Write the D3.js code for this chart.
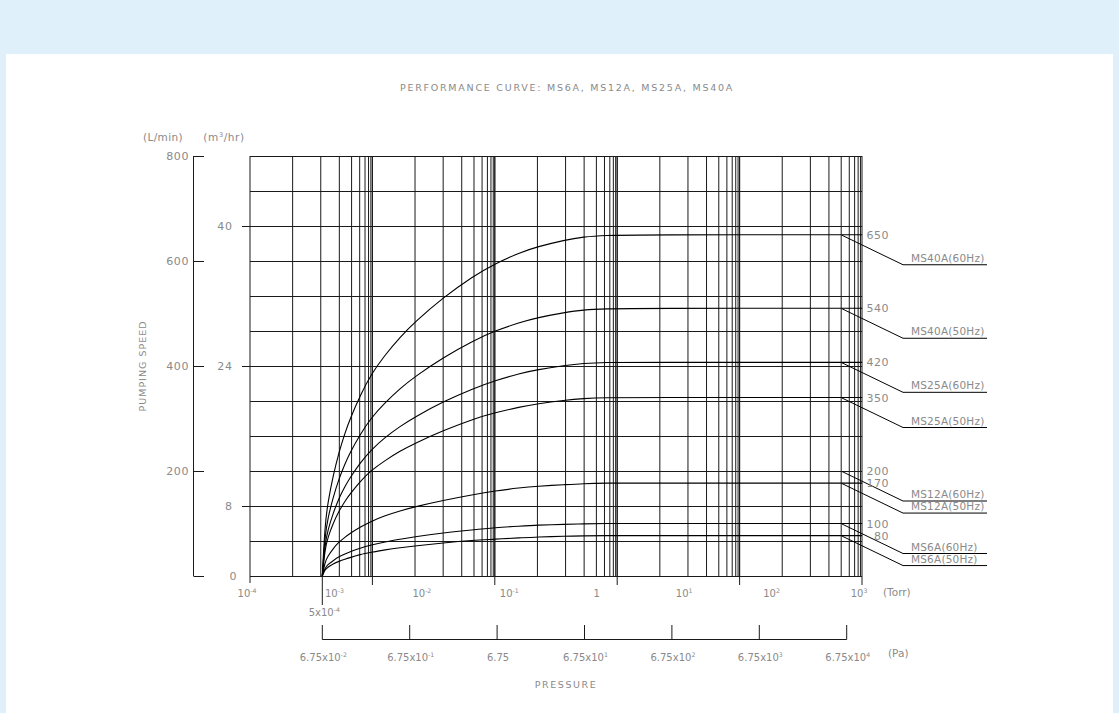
<!DOCTYPE html>
<html>
<head>
<meta charset="utf-8">
<script src="https://cdn.jsdelivr.net/npm/d3@7"></script>
<style>
  html, body { margin: 0; padding: 0; background: #dff0fb; }
  svg { display: block; }
  text { font-family: "DejaVu Sans", sans-serif; font-weight: normal; fill: #8a8a8a; }
</style>
</head>
<body>
<svg id="chart" width="1119" height="713"></svg>
<script>
// ---------------- data ----------------
const title = "PERFORMANCE CURVE: MS6A, MS12A, MS25A, MS40A";
const seriesNames = ["MS40A(60Hz)", "MS40A(50Hz)", "MS25A(60Hz)", "MS25A(50Hz)",
                     "MS12A(60Hz)", "MS12A(50Hz)", "MS6A(60Hz)", "MS6A(50Hz)"];
const ratedLabels = [650, 540, 420, 350, 200, 170, 100, 80];          // printed values
const plateauLevels = [650, 510, 407, 340, 200, 177, 100, 77];        // level where each curve / leader sits (L/min)
// pressure samples (Pa) shared by all curves
const pressuresPa = [0.0675, 0.0725, 0.0784, 0.0895, 0.105, 0.123, 0.14, 0.182, 0.2435, 0.352, 0.523,
                     0.776, 1.62, 3.58, 6.38, 12.3, 19.3, 40.4, 64.9, 116, 291, 101325];
// pumping speed (L/min) per series; MS12A(60Hz) has no drawn curve in the chart
const speedMS40A60 = [0, 99, 141, 190, 237, 273, 299, 343, 384, 421, 455, 484, 530, 571, 595, 616, 627, 640, 646, 649, 650, 650];
const speedMS40A50 = [0, 78, 111, 149, 186, 214, 235, 269, 301, 330, 357, 380, 416, 448, 467, 483, 492, 502, 507, 509, 510, 510];
const speedMS25A60 = [0, 62, 88, 119, 149, 171, 187, 215, 240, 264, 285, 303, 332, 357, 372, 386, 393, 401, 405, 407, 407, 407];
const speedMS25A50 = [0, 52, 74, 100, 124, 143, 156, 180, 201, 220, 238, 253, 277, 299, 311, 322, 328, 335, 338, 340, 340, 340];
const speedMS12A60 = null;
const speedMS12A50 = [0, 27, 38, 52, 65, 74, 81, 93, 104, 115, 124, 132, 144, 155, 162, 168, 171, 174, 176, 177, 177, 177];
const speedMS6A60  = [0, 15, 22, 29, 37, 42, 46, 53, 59, 65, 70, 75, 82, 88, 92, 95, 97, 98.5, 99.4, 100, 100, 100];
const speedMS6A50  = [0, 12, 17, 23, 28, 32, 35, 41, 45, 50, 54, 57, 63, 68, 70, 73, 74, 76, 76.5, 77, 77, 77];
const speeds = [speedMS40A60, speedMS40A50, speedMS25A60, speedMS25A50,
                speedMS12A60, speedMS12A50, speedMS6A60, speedMS6A50];

const lminTicks = [0, 200, 400, 600, 800];
const m3Ticks = [0, 8, 24, 40];
const m3GridStep = 4;
const torrExps = [-4, -3, -2, -1, 0, 1, 2, 3];
const paExps = [-2, -1, 0, 1, 2, 3, 4];
const startTorr = "5x10";   // 5x10^-4 Torr = 6.75x10^-2 Pa
const startTorrExp = -4;

// ---------------- layout ----------------
const svg = d3.select("#chart");
const W = 1119, H = 713;
const P = { left: 250, right: 862, top: 156, bottom: 576 };

svg.append("rect").attr("x", 6).attr("y", 54).attr("width", W - 12).attr("height", H - 54).attr("fill", "#ffffff");

const y = d3.scaleLinear().domain([0, 800]).range([P.bottom, P.top]);
const yM3 = d3.scaleLinear().domain([0, 48]).range([P.bottom, P.top]);
const xTorr = d3.scaleLog().domain([1e-4, 1e3]).range([P.left, P.right]);
const xPa = d3.scaleLog().domain([6.75e-2, 6.75e4]).range([322.3, 846.7]);
// graph-paper ruling: 5 cycles across the plot, each ruled with geometrically narrowing spacing
const xPaper = d3.scaleLinear().domain([0, 5]).range([P.left, P.right]);
const ruleRatio = 0.66;
const ruleFrac = k => (1 - Math.pow(ruleRatio, k)) / (1 - Math.pow(ruleRatio, 9));

const ink = "#1a1a1a";
const g = svg.append("g");

// horizontal grid
const hLines = d3.range(0, 48 + 0.001, m3GridStep);
g.append("g").selectAll("line").data(hLines).join("line")
  .attr("x1", P.left).attr("x2", P.right)
  .attr("y1", d => Math.round(yM3(d)) + 0.5).attr("y2", d => Math.round(yM3(d)) + 0.5)
  .attr("stroke", ink).attr("stroke-width", 1);

// vertical grid
const vLines = [];
for (let c = 0; c < 5; c++) for (let k = 0; k <= 9; k++) vLines.push(c + ruleFrac(k));
g.append("g").selectAll("line").data(vLines).join("line")
  .attr("x1", d => xPaper(d)).attr("x2", d => xPaper(d))
  .attr("y1", P.top).attr("y2", P.bottom)
  .attr("stroke", ink).attr("stroke-width", 1);

// cycle ticks below the plot
g.append("g").selectAll("line").data(d3.range(0, 6)).join("line")
  .attr("x1", d => xPaper(d)).attr("x2", d => xPaper(d))
  .attr("y1", P.bottom).attr("y2", d => P.bottom + (d === 0 ? 7 : 9))
  .attr("stroke", ink);
// start-pressure tick
g.append("line").attr("x1", xPa(6.75e-2)).attr("x2", xPa(6.75e-2))
  .attr("y1", P.bottom).attr("y2", 605).attr("stroke", ink);

// curves
const line = d3.line().x(d => xPa(d[0])).y(d => y(d[1])).curve(d3.curveBasis);
speeds.forEach(s => {
  if (!s) return;
  g.append("path").datum(pressuresPa.map((p, i) => [p, s[i]]))
    .attr("d", line).attr("fill", "none").attr("stroke", "#000").attr("stroke-width", 1.1);
});

// helper for superscript text
function supText(sel, base, exp, after) {
  sel.append("tspan").text(base);
  sel.append("tspan").attr("font-size", "0.62em").attr("dy", -4).text(exp);
  if (after) sel.append("tspan").attr("dy", 4).text(after);
  return sel;
}

// left L/min axis
const axL = 193.5;
g.append("line").attr("x1", axL).attr("x2", axL).attr("y1", y(800)).attr("y2", y(0)).attr("stroke", ink);
g.append("g").selectAll("line").data(lminTicks).join("line")
  .attr("x1", axL).attr("x2", 204).attr("y1", d => Math.round(y(d)) + 0.5).attr("y2", d => Math.round(y(d)) + 0.5)
  .attr("stroke", ink);
g.append("g").selectAll("text").data(lminTicks.filter(d => d > 0)).join("text")
  .attr("x", 189).attr("y", d => y(d) + 4).attr("text-anchor", "end")
  .attr("font-size", 11).attr("letter-spacing", 0.6).text(d => d);

// m3/hr ticks
g.append("g").selectAll("line").data(m3Ticks.filter(d => d > 0)).join("line")
  .attr("x1", 242).attr("x2", P.left).attr("y1", d => Math.round(yM3(d)) + 0.5).attr("y2", d => Math.round(yM3(d)) + 0.5)
  .attr("stroke", ink);
g.append("g").selectAll("text").data(m3Ticks).join("text")
  .attr("x", d => d === 0 ? 237 : 232.5).attr("y", d => yM3(d) + 4).attr("text-anchor", "end")
  .attr("font-size", 11).attr("letter-spacing", 0.6).text(d => d);

// unit headers
g.append("text").attr("x", 163).attr("y", 141).attr("text-anchor", "middle").attr("font-size", 10.5).attr("letter-spacing", 0.4).text("(L/min)");
supText(g.append("text").attr("x", 224).attr("y", 141).attr("text-anchor", "middle").attr("font-size", 10.5).attr("letter-spacing", 0.6), "(m", "3", "/hr)");

// y title
g.append("text").attr("transform", "translate(146,366) rotate(-90)").attr("text-anchor", "middle")
  .attr("font-size", 9.5).attr("letter-spacing", 1.0).text("PUMPING SPEED");

// title
g.append("text").attr("x", 567).attr("y", 91).attr("text-anchor", "middle")
  .attr("font-size", 9.5).attr("letter-spacing", 1.75).text(title);

// Torr labels
torrExps.forEach(e => {
  const t = g.append("text").attr("x", xTorr(Math.pow(10, e)) - 3).attr("y", 597)
    .attr("text-anchor", "middle").attr("font-size", 10);
  if (e === 0) t.text("1"); else supText(t, "10", e);
});
g.append("text").attr("x", 883).attr("y", 596).attr("font-size", 10.5).text("(Torr)");
supText(g.append("text").attr("x", xPa(6.75e-2) + 2).attr("y", 616).attr("text-anchor", "middle").attr("font-size", 10),
  startTorr, startTorrExp);

// Pa axis
const paVals = paExps.map(e => 6.75 * Math.pow(10, e));
const yPa = 639.5;
g.append("line").attr("x1", xPa(paVals[0])).attr("x2", xPa(paVals[paVals.length - 1]))
  .attr("y1", yPa).attr("y2", yPa).attr("stroke", ink);
g.append("g").selectAll("line").data(paVals).join("line")
  .attr("x1", d => xPa(d)).attr("x2", d => xPa(d)).attr("y1", yPa).attr("y2", 625).attr("stroke", ink);
paExps.forEach((e, i) => {
  const t = g.append("text").attr("x", xPa(paVals[i]) + 1).attr("y", 661)
    .attr("text-anchor", "middle").attr("font-size", 10);
  if (e === 0) t.text("6.75"); else supText(t, "6.75x10", e);
});
g.append("text").attr("x", 888).attr("y", 657).attr("font-size", 10.5).text("(Pa)");
g.append("text").attr("x", 566).attr("y", 688).attr("text-anchor", "middle")
  .attr("font-size", 9.5).attr("letter-spacing", 1.6).text("PRESSURE");

// right-hand labels with leaders
const leadX0 = 842, leadX1 = 903, underEnd = 987, leadDrop = 30;
seriesNames.forEach((name, i) => {
  const yc = y(plateauLevels[i]);
  g.append("text").attr("x", 889).attr("y", yc + 4).attr("text-anchor", "end")
    .attr("font-size", 11).attr("letter-spacing", 0.5).text(ratedLabels[i]);
  g.append("polyline")
    .attr("points", [[leadX0, yc + 0.5], [leadX1, yc + leadDrop], [underEnd, yc + leadDrop]].map(p => p.join(",")).join(" "))
    .attr("fill", "none").attr("stroke", "#000").attr("stroke-width", 1);
  g.append("text").attr("x", 911).attr("y", yc + leadDrop - 3)
    .attr("font-size", 10.5).attr("letter-spacing", 0.2).text(name);
});
</script>
</body>
</html>
